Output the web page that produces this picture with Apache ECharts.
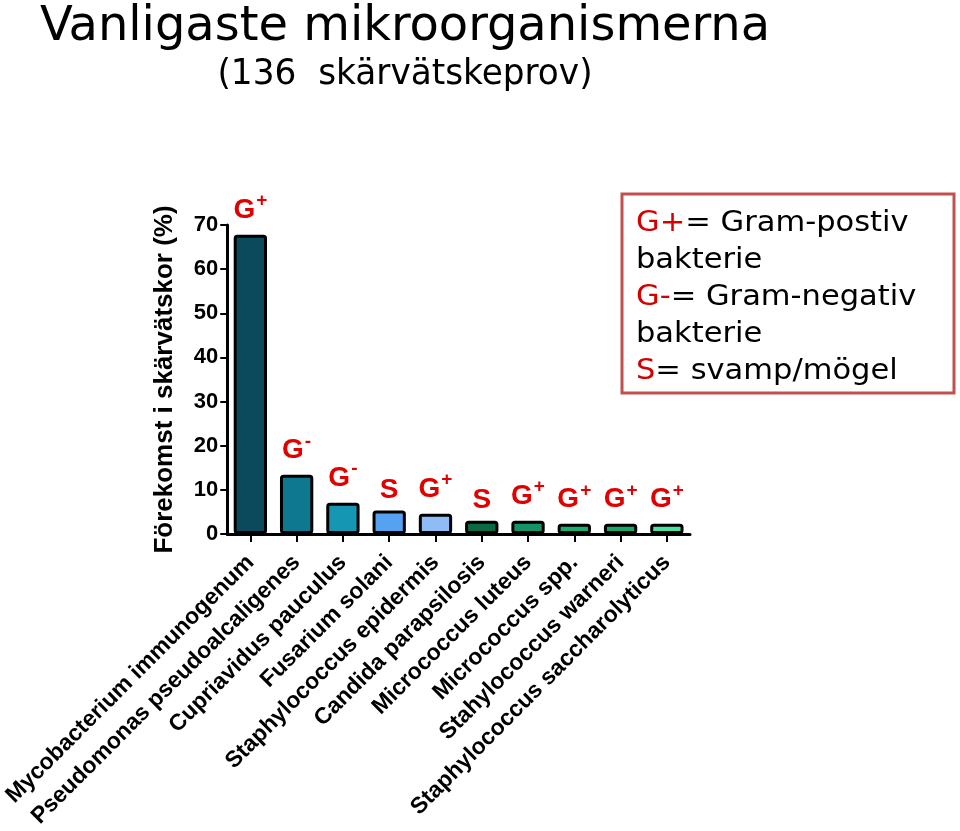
<!DOCTYPE html>
<html><head><meta charset="utf-8">
<script src="https://cdn.jsdelivr.net/npm/echarts@6/dist/echarts.min.js"></script>
<style>html,body{margin:0;padding:0;background:#fff}#c{width:960px;height:831px}</style>
</head><body><div id="c"></div>
<script>
const categories = ['Mycobacterium immunogenum','Pseudomonas pseudoalcaligenes','Cupriavidus pauculus','Fusarium solani','Staphylococcus epidermis','Candida parapsilosis','Micrococcus luteus','Micrococcus spp.','Stahylococcus warneri','Staphylococcus saccharolyticus'];
const values = [67.8, 13.4, 7.1, 5.3, 4.6, 3.0, 3.0, 2.3, 2.3, 2.3];
const types = ['G+','G-','G-','S','G+','S','G+','G+','G+','G+'];
const barColors = ['#0b4a5c','#0e7890','#1597b3','#55a2f0','#8fbcf5','#0a6a43','#139466','#1cad70','#1aa66b','#4be3a4'];
const yTicks = [0,10,20,30,40,50,60,70];

const chart = echarts.init(document.getElementById('c'), null, {renderer:'canvas'});
const labelFmt = p => {
  const t = types[p.dataIndex];
  if (t === 'S') return '{g|S}';
  return '{g|G}{sup|' + t.slice(1) + '}';
};
chart.setOption({
  animation: false,
  backgroundColor: '#fff',
  grid: {left: 222, right: 270, top: 225, bottom: 297, containLabel: false},
  graphic: [
    {type:'text', x:405, y:28, scaleX:1.11, style:{text:'Vanligaste mikroorganismerna', font:'48px "DejaVu Sans Condensed", "DejaVu Sans"', fill:'#000', textAlign:'center', textVerticalAlign:'middle'}},
    {type:'text', x:405, y:75, scaleX:1.06, style:{text:'(136  skärvätskeprov)', font:'36px "DejaVu Sans Condensed", "DejaVu Sans"', fill:'#000', textAlign:'center', textVerticalAlign:'middle'}},
    {type:'rect', shape:{x:622, y:194, width:332, height:199}, style:{fill:'#fff', stroke:'#c0504d', lineWidth:3}},
    {type:'text', x:636, y:205, scaleX:1.09, style:{
      text:'{r|G+}{k|= Gram-postiv}\n{k|bakterie}\n{r|G-}{k|= Gram-negativ}\n{k|bakterie}\n{r|S}{k|= svamp/mögel}',
      font:'28px "DejaVu Sans"', fill:'#000', lineHeight:37, textVerticalAlign:'top',
      rich:{r:{fill:'#d40000', fontSize:28, fontFamily:'DejaVu Sans', lineHeight:37}, k:{fill:'#000', fontSize:28, fontFamily:'DejaVu Sans', lineHeight:37}}
    }}
  ],
  xAxis: {
    type:'category', data: categories,
    axisLine:{show:true, lineStyle:{color:'#000', width:3}},
    axisTick:{show:true, alignWithLabel:true, length:8, lineStyle:{color:'#000', width:2}},
    axisLabel:{rotate:45, margin:25, color:'#000', fontWeight:'bold', fontSize:23, fontFamily:'"Liberation Sans", Arial', interval:0}
  },
  yAxis: {
    type:'value', min:0, max:70, interval:10,
    name:'Förekomst i skärvätskor (%)', nameLocation:'middle', nameRotate:90, nameGap:49,
    nameTextStyle:{color:'#000', fontWeight:'bold', fontSize:26, fontFamily:'"Liberation Sans", Arial'},
    axisLine:{show:true, lineStyle:{color:'#000', width:3}},
    axisTick:{show:true, length:7, lineStyle:{color:'#000', width:2}},
    splitLine:{show:false},
    axisLabel:{color:'#000', fontWeight:'bold', fontSize:22, fontFamily:'"Liberation Sans", Arial', margin:9,
      formatter: v => yTicks.includes(v) ? String(v) : ''}
  },
  series: [{
    type:'bar', barWidth:'72%',
    data: values.map((v,i)=>({value:v, itemStyle:{color:barColors[i]}})),
    itemStyle:{borderColor:'#000', borderWidth:3, borderRadius:2},
    label:{show:true, position:'top', distance:6, formatter:labelFmt,
      rich:{
        g:{color:'#e00000', fontWeight:'bold', fontSize:28, fontFamily:'"Liberation Sans", Arial'},
        sup:{color:'#e00000', fontWeight:'bold', fontSize:19, fontFamily:'"Liberation Sans", Arial', padding:[0,0,18,1]}
      }}
  }]
});
</script></body></html>
